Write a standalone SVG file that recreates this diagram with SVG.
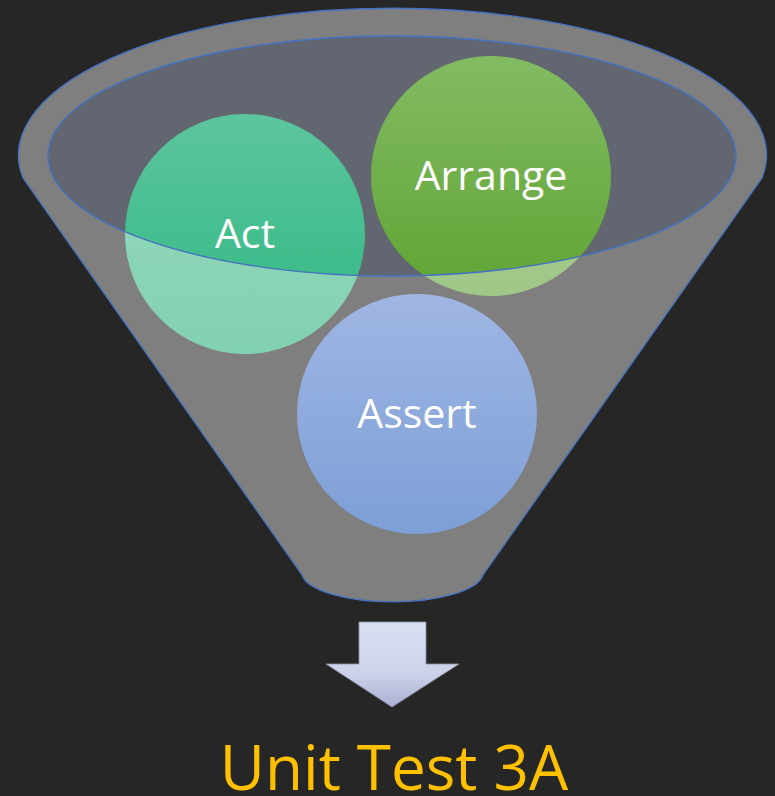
<svg xmlns="http://www.w3.org/2000/svg" width="775" height="796" viewBox="0 0 775 796">
  <style>
    .label { font-family: "Open Sans", "Liberation Sans", sans-serif; font-size: 41px; fill: #ffffff; text-anchor: middle; }
    .title { font-family: "Open Sans", "Liberation Sans", sans-serif; font-size: 62px; fill: #FFC000; text-anchor: middle; }
    .rim { fill: none; stroke: #4472C4; stroke-width: 1.3; }
  </style>
  <defs>
    <linearGradient id="actIn" x1="0" y1="0" x2="0" y2="1">
      <stop offset="0" stop-color="#5dc59d"/>
      <stop offset="1" stop-color="#2eb881"/>
    </linearGradient>
    <linearGradient id="actOut" x1="0" y1="0" x2="0" y2="1">
      <stop offset="0" stop-color="#98dabf"/>
      <stop offset="1" stop-color="#82d1b0"/>
    </linearGradient>
    <linearGradient id="arrIn" x1="0" y1="0" x2="0" y2="1">
      <stop offset="0" stop-color="#83bb63"/>
      <stop offset="1" stop-color="#60a434"/>
    </linearGradient>
    <linearGradient id="arrOut" x1="0" y1="0" x2="0" y2="1">
      <stop offset="0" stop-color="#b2d39e"/>
      <stop offset="1" stop-color="#9fc787"/>
    </linearGradient>
    <linearGradient id="assertG" x1="0" y1="0" x2="0" y2="1">
      <stop offset="0" stop-color="#a0b6e3"/>
      <stop offset="1" stop-color="#7d9fd7"/>
    </linearGradient>
    <linearGradient id="arrowG" x1="0" y1="0" x2="0" y2="1">
      <stop offset="0" stop-color="#dce0f3"/>
      <stop offset="0.6" stop-color="#cdd2ea"/>
      <stop offset="1" stop-color="#aab0d2"/>
    </linearGradient>
    <clipPath id="inside">
      <ellipse cx="392" cy="156" rx="344" ry="120"/>
    </clipPath>
    <clipPath id="outside">
      <path clip-rule="evenodd" d="M0 0 H775 V796 H0 Z M48 156 A344 120 0 1 0 736 156 A344 120 0 1 0 48 156 Z"/>
    </clipPath>
  </defs>

  <rect width="775" height="796" fill="#262626"/>

  <g id="funnel">
    <path d="M23 178 A374 147 0 1 1 762 178 L483 575 A91 30 0 0 1 302 575 Z" fill="#7f7f7f" stroke="#4472C4" stroke-width="1.3"/>
    <ellipse cx="392" cy="156" rx="344" ry="120" fill="#626670"/>
  </g>

  <g id="node-act">
    <circle cx="245" cy="234" r="120" fill="url(#actOut)" clip-path="url(#outside)"/>
    <circle cx="245" cy="234" r="120" fill="url(#actIn)" clip-path="url(#inside)"/>
    <text class="label" x="245" y="248">Act</text>
  </g>

  <g id="node-arrange">
    <circle cx="491" cy="176" r="120" fill="url(#arrOut)" clip-path="url(#outside)"/>
    <circle cx="491" cy="176" r="120" fill="url(#arrIn)" clip-path="url(#inside)"/>
    <text class="label" x="491" y="190">Arrange</text>
  </g>

  <g id="node-assert">
    <circle cx="417" cy="414" r="120" fill="url(#assertG)"/>
    <text class="label" x="417" y="428">Assert</text>
  </g>

  <g id="funnel-rim">
    <ellipse class="rim" cx="392" cy="156" rx="344" ry="120"/>
  </g>

  <g id="connectors">
    <path d="M359 622 H426 V664 H459 L392 707 L326 664 H359 Z" fill="url(#arrowG)" stroke="#8a8fa8" stroke-width="0.8"/>
  </g>

  <g id="node-result">
    <text class="title" x="394" y="790">Unit Test 3A</text>
  </g>
</svg>
